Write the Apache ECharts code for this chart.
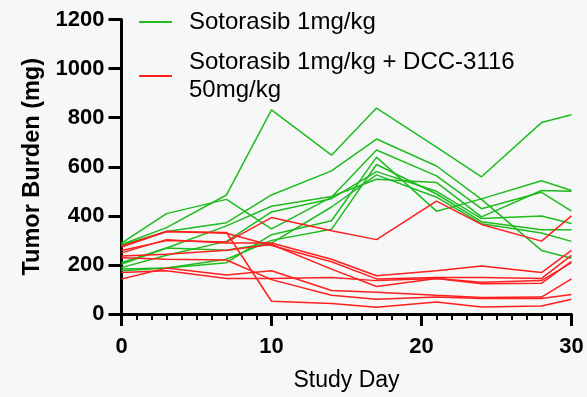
<!DOCTYPE html>
<html>
<head>
<meta charset="utf-8">
<script src="https://cdn.jsdelivr.net/npm/echarts@6/dist/echarts.min.js"></script>
<style>
html,body{margin:0;padding:0;background:#f6f8f8;}
#chart{width:587px;height:397px;}
</style>
</head>
<body>
<div id="chart"></div>
<script>
// Study days (x values)
const days = [0, 3, 7, 10, 14, 17, 21, 24, 28, 30];

// Sotorasib 1mg/kg (green) - individual animals
const sot1 = [283, 352, 485, 832, 647, 839, 680, 559, 780, 812];
const sot2 = [289, 409, 467, 347, 476, 668, 563, 429, 496, 419];
const sot3 = [280, 336, 372, 485, 583, 713, 603, 467, 259, 227];
const sot4 = [209, 269, 359, 439, 479, 549, 536, 396, 503, 500];
const sot5 = [189, 239, 296, 416, 470, 580, 500, 389, 399, 369];
const sot6 = [183, 187, 209, 323, 380, 639, 419, 469, 543, 503];
const sot7 = [176, 187, 223, 300, 345, 609, 489, 376, 343, 343];
const sot8 = [203, 269, 260, 289, 436, 567, 476, 368, 330, 296];

// Sotorasib 1mg/kg + DCC-3116 50mg/kg (red)
const combo1 = [259, 299, 293, 393, 339, 303, 460, 365, 297, 400];
const combo2 = [273, 336, 332, 52, 43, 28, 49, 29, 33, 60];
const combo3 = [229, 223, 220, 140, 76, 60, 69, 63, 63, 79];
const combo4 = [249, 303, 289, 289, 223, 156, 176, 196, 169, 259];
const combo5 = [276, 336, 329, 279, 213, 143, 149, 149, 145, 239];
const combo6 = [236, 243, 260, 283, 183, 112, 145, 129, 136, 209];
const combo7 = [143, 187, 159, 176, 96, 89, 76, 67, 69, 143];
const combo8 = [169, 176, 145, 145, 149, 136, 145, 123, 125, 215];

const yTicks = [0, 200, 400, 600, 800, 1000, 1200];
const xTicks = [0, 10, 20, 30];

const nameA = 'Sotorasib 1mg/kg';
const nameB = 'Sotorasib 1mg/kg + DCC-3116\n50mg/kg';
const green = '#1fbb1f';
const red = '#ff1f1f';

const groupA = [sot1, sot2, sot3, sot4, sot5, sot6, sot7, sot8];
const groupB = [combo1, combo2, combo3, combo4, combo5, combo6, combo7, combo8];

function mk(arr, name, color) {
  return {
    type: 'line', name: name,
    data: arr.map((v, i) => [days[i], v]),
    showSymbol: false, symbol: 'none',
    lineStyle: { color: color, width: 1.5 },
    itemStyle: { color: color },
    silent: true, animation: false
  };
}
const series = [];
groupA.forEach(a => series.push(mk(a, nameA, green)));
groupB.forEach(a => series.push(mk(a, nameB, red)));

const font = "'Liberation Sans', Arial, Helvetica, sans-serif";
const chart = echarts.init(document.getElementById('chart'), null, { renderer: 'canvas' });
chart.setOption({
  backgroundColor: '#f6f8f8',
  animation: false,
  textStyle: { fontFamily: font },
  grid: { left: 121.5, right: 15.5, top: 19.5, bottom: 77.5, containLabel: false },
  legend: {
    orient: 'vertical', left: 139, top: 8, itemGap: 12, padding: 0,
    itemWidth: 33, itemHeight: 2, icon: 'rect',
    data: [nameA, nameB],
    textStyle: { fontFamily: font, fontSize: 24, color: '#000', lineHeight: 28, padding: [0, 0, 0, 12] },
    selectedMode: false
  },
  xAxis: {
    type: 'value', min: 0, max: 30, interval: 10,
    name: 'Study Day', nameLocation: 'middle', nameGap: 55,
    nameTextStyle: { fontFamily: font, fontSize: 23, color: '#000' },
    axisLine: { show: true, onZero: false, lineStyle: { color: '#000', width: 3 } },
    axisTick: { show: true, length: 12, lineStyle: { color: '#000', width: 3 } },
    minorTick: { show: true, splitNumber: 10, length: 6, lineStyle: { color: '#000', width: 2 } },
    axisLabel: { fontFamily: font, fontSize: 22, fontWeight: 'bold', color: '#000', margin: 22,
      formatter: v => xTicks.includes(v) ? String(v) : '' },
    splitLine: { show: false }
  },
  yAxis: {
    type: 'value', min: 0, max: 1200, interval: 200,
    name: 'Tumor Burden (mg)', nameLocation: 'middle', nameGap: 74, nameRotate: 90,
    nameTextStyle: { fontFamily: font, fontSize: 23.5, fontWeight: 'bold', color: '#000' },
    axisLine: { show: true, onZero: false, lineStyle: { color: '#000', width: 3 } },
    axisTick: { show: true, length: 13, lineStyle: { color: '#000', width: 3 } },
    axisLabel: { fontFamily: font, fontSize: 22, fontWeight: 'bold', color: '#000', margin: 17,
      formatter: v => yTicks.includes(v) ? String(v) : '' },
    splitLine: { show: false }
  },
  series: series
});
</script>
</body>
</html>
